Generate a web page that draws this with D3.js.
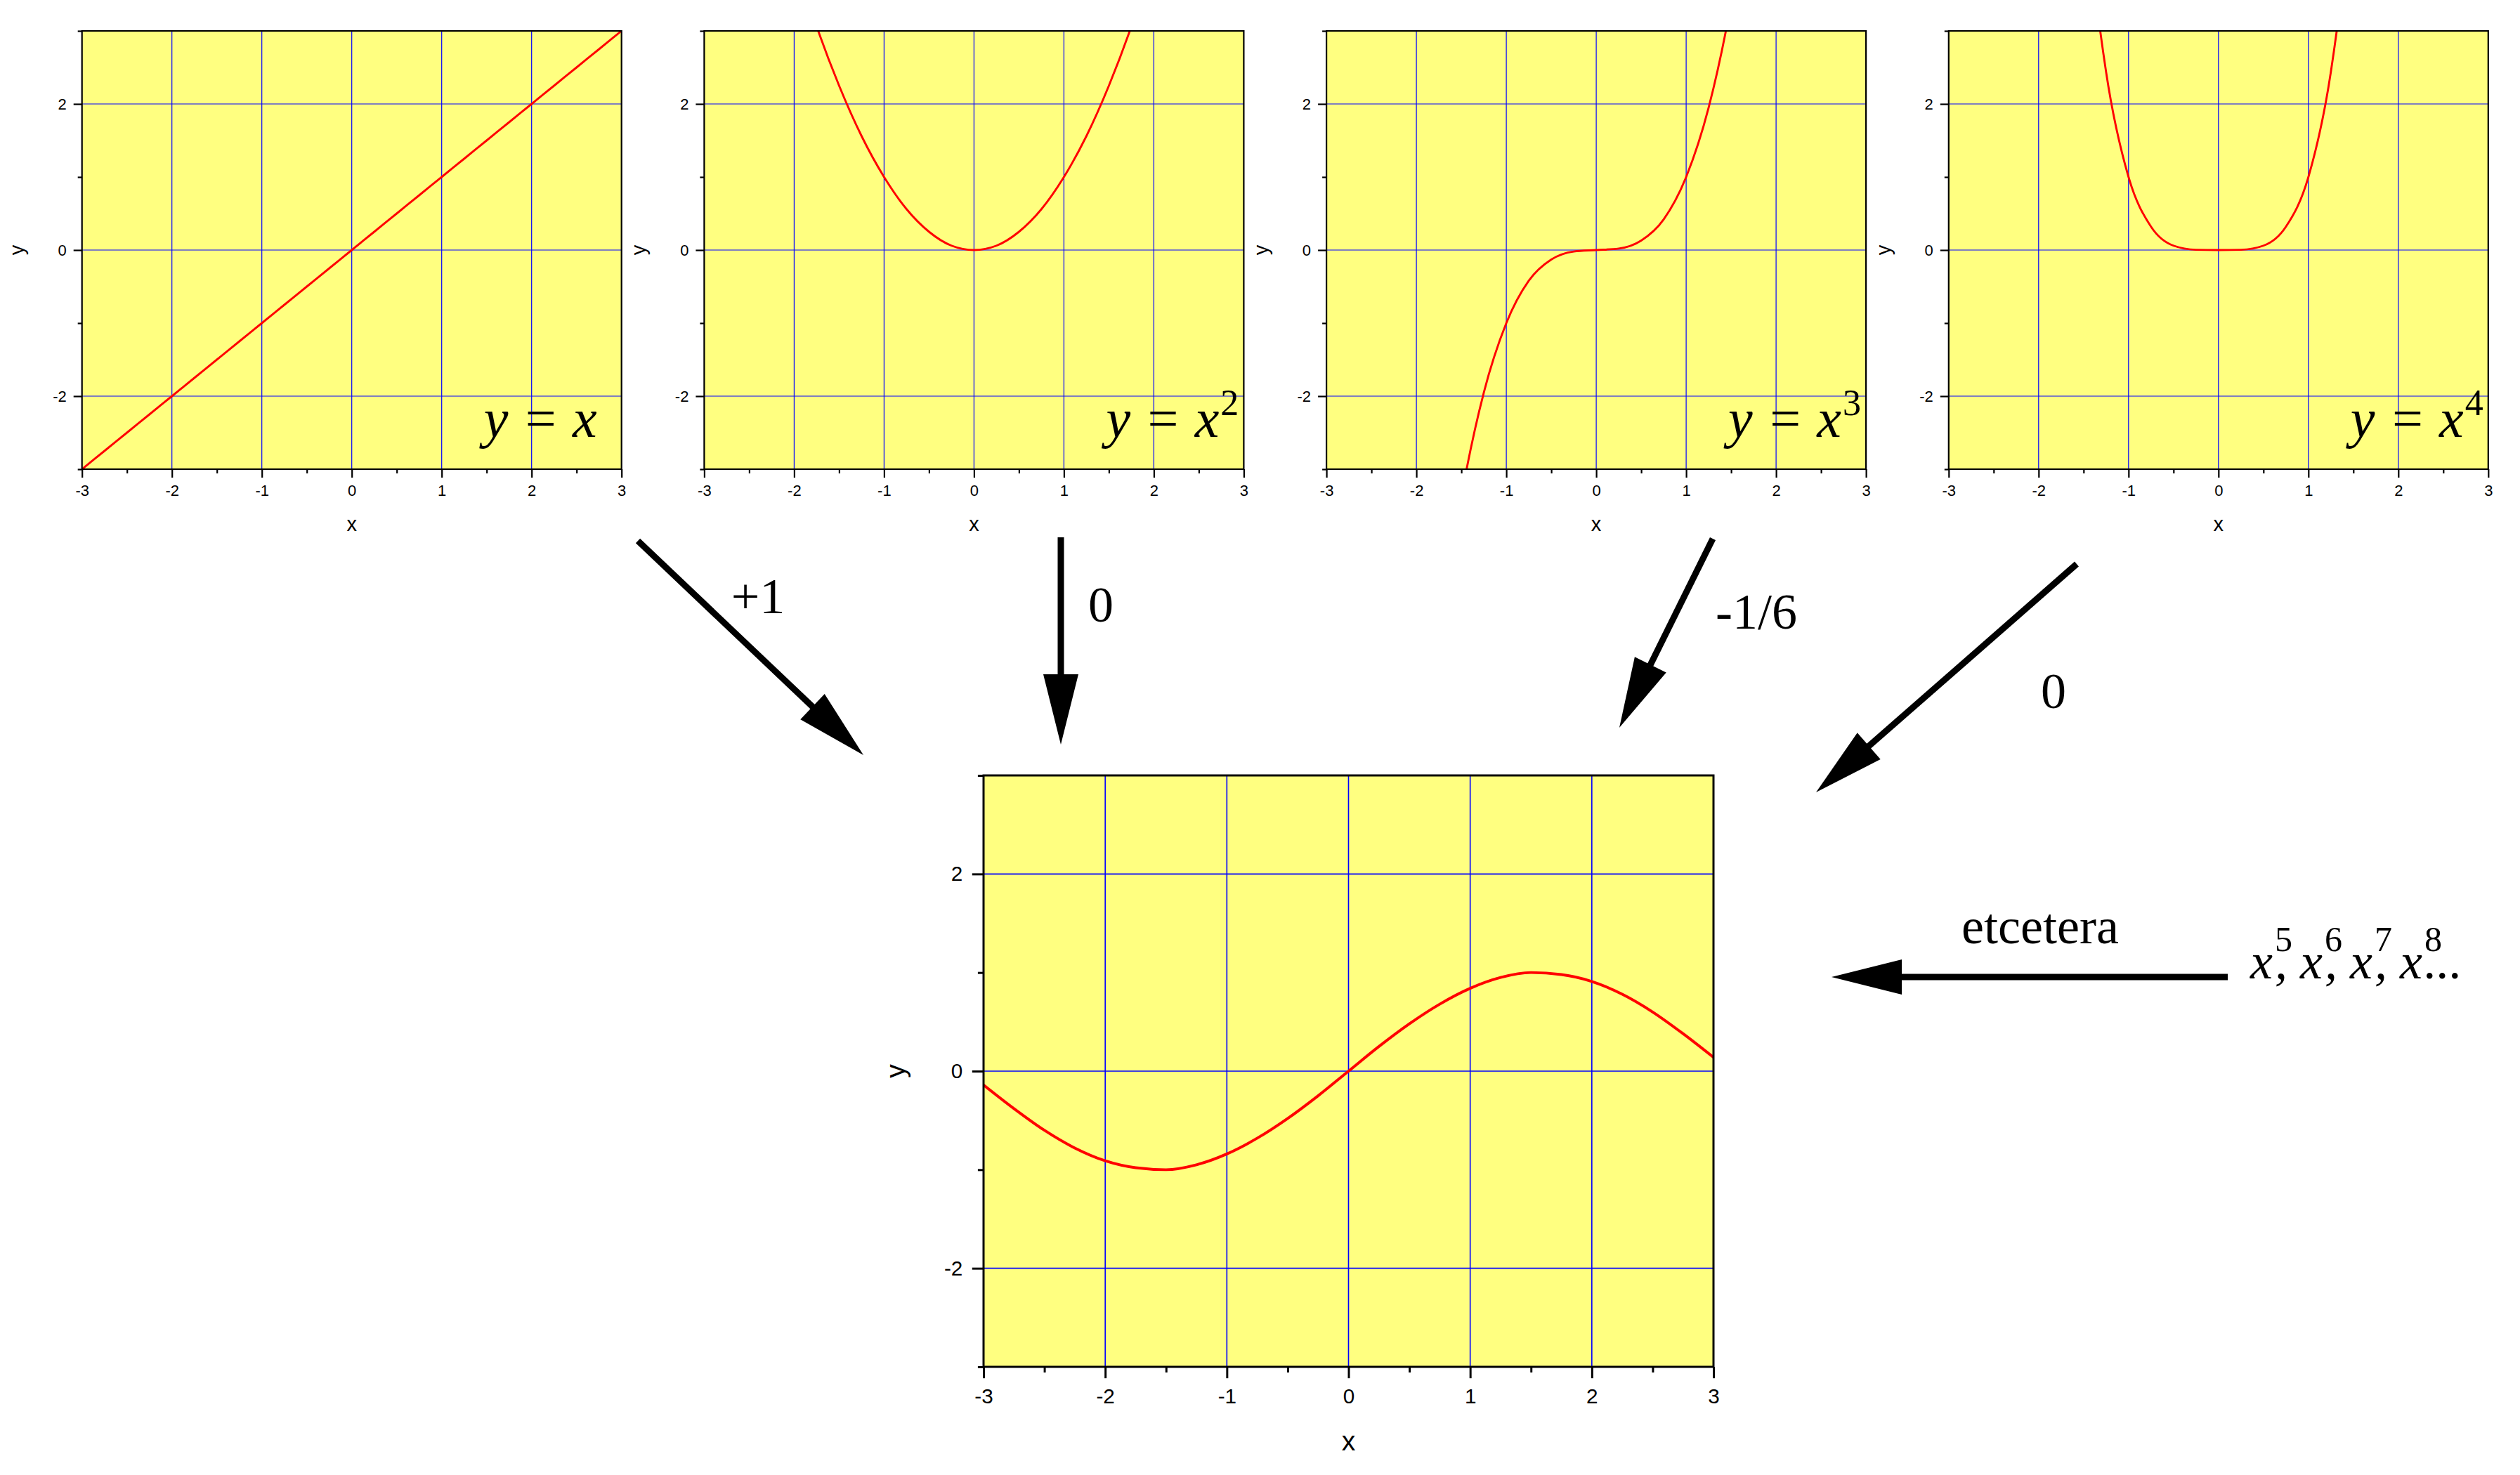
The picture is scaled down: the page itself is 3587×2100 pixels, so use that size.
<!DOCTYPE html>
<html>
<head>
<meta charset="utf-8">
<script src="https://cdn.jsdelivr.net/npm/d3@7"></script>
<style>
  body { margin: 0; background: #fff; }
  svg { display: block; }
</style>
</head>
<body>
<svg id="chart" width="3587" height="2100"></svg>
<script>
// x positions where every curve was sampled
const xs = [-3, -2.75, -2.5, -2.25, -2, -1.75, -1.5, -1.25, -1, -0.75, -0.5, -0.25, 0,
            0.25, 0.5, 0.75, 1, 1.25, 1.5, 1.75, 2, 2.25, 2.5, 2.75, 3];

// y = x, x^2, x^3, x^4 and the resulting sum (bottom chart)
const linearY = [-3, -2.75, -2.5, -2.25, -2, -1.75, -1.5, -1.25, -1, -0.75, -0.5, -0.25, 0,
                 0.25, 0.5, 0.75, 1, 1.25, 1.5, 1.75, 2, 2.25, 2.5, 2.75, 3];
const squareY = [9, 7.56, 6.25, 5.06, 4, 3.06, 2.25, 1.56, 1, 0.56, 0.25, 0.06, 0,
                 0.06, 0.25, 0.56, 1, 1.56, 2.25, 3.06, 4, 5.06, 6.25, 7.56, 9];
const cubeY = [-27, -20.8, -15.6, -11.4, -8, -5.36, -3.38, -1.95, -1, -0.42, -0.13, -0.02, 0,
               0.02, 0.13, 0.42, 1, 1.95, 3.38, 5.36, 8, 11.4, 15.6, 20.8, 27];
const quarticY = [81, 57.2, 39.1, 25.6, 16, 9.38, 5.06, 2.44, 1, 0.32, 0.06, 0.004, 0,
                  0.004, 0.06, 0.32, 1, 2.44, 5.06, 9.38, 16, 25.6, 39.1, 57.2, 81];
const sumY = [-0.14, -0.38, -0.6, -0.78, -0.91, -0.98, -1.0, -0.95, -0.84, -0.68, -0.48, -0.25, 0,
              0.25, 0.48, 0.68, 0.84, 0.95, 1.0, 0.98, 0.91, 0.78, 0.6, 0.38, 0.14];

const powers = ['', '2', '3', '4'];
const coefficients = ['+1', '0', '-1/6', '0'];
const laterPowers = ['5', '6', '7', '8'];

const xTicks = [-3, -2, -1, 0, 1, 2, 3];
const xMinorTicks = [-2.5, -1.5, -0.5, 0.5, 1.5, 2.5];
const xGrid = [-2, -1, 0, 1, 2];
const yTicks = [-2, 0, 2];
const yMinorTicks = [-3, -1, 1, 3];

const SANS = '"Liberation Sans", Arial, sans-serif';
const SERIF = '"Liberation Serif", "Times New Roman", serif';

const svg = d3.select('#chart');
svg.append('rect').attr('width', 3587).attr('height', 2100).attr('fill', '#fff');

function drawPanel(id, box, ys, k) {
  const x = d3.scaleLinear().domain([-3, 3]).range([box.left, box.left + box.width]);
  const y = d3.scaleLinear().domain([-3, 3]).range([box.top + box.height, box.top]);
  const g = svg.append('g');

  g.append('clipPath').attr('id', 'clip' + id)
    .append('rect')
    .attr('x', box.left).attr('y', box.top)
    .attr('width', box.width).attr('height', box.height);

  g.append('rect')
    .attr('x', box.left).attr('y', box.top)
    .attr('width', box.width).attr('height', box.height)
    .attr('fill', '#ffff80');

  g.selectAll('.vgrid').data(xGrid).enter().append('line')
    .attr('x1', d => x(d)).attr('x2', d => x(d))
    .attr('y1', box.top).attr('y2', box.top + box.height)
    .attr('stroke', '#0000ff').attr('stroke-width', 1.2 * k);
  g.selectAll('.hgrid').data(yTicks).enter().append('line')
    .attr('y1', d => y(d)).attr('y2', d => y(d))
    .attr('x1', box.left).attr('x2', box.left + box.width)
    .attr('stroke', '#0000ff').attr('stroke-width', 1.2 * k);

  const line = d3.line()
    .x((d, i) => x(xs[i]))
    .y(d => y(d))
    .curve(d3.curveMonotoneX);

  g.append('path')
    .datum(ys)
    .attr('clip-path', `url(#clip${id})`)
    .attr('d', line)
    .attr('fill', 'none')
    .attr('stroke', '#ff0000')
    .attr('stroke-width', 2.9 * k);

  g.append('rect')
    .attr('x', box.left).attr('y', box.top)
    .attr('width', box.width).attr('height', box.height)
    .attr('fill', 'none').attr('stroke', '#000').attr('stroke-width', 2.2 * k);

  const fmt = d => String(d);
  const bottom = box.top + box.height;
  const styleAxis = sel => {
    sel.attr('font-size', 22 * k).attr('font-family', SANS);
    sel.select('.domain').remove();
    sel.selectAll('line').attr('stroke', '#000').attr('stroke-width', 2.2 * k);
    sel.selectAll('text').attr('fill', '#000');
  };

  g.append('g').attr('transform', `translate(0,${bottom})`)
    .call(d3.axisBottom(x).tickValues(xTicks).tickFormat(fmt).tickSize(12 * k).tickPadding(10.7 * k))
    .call(styleAxis);
  g.append('g').attr('transform', `translate(0,${bottom})`)
    .call(d3.axisBottom(x).tickValues(xMinorTicks).tickFormat('').tickSize(6 * k))
    .call(styleAxis);
  g.append('g').attr('transform', `translate(${box.left},0)`)
    .call(d3.axisLeft(y).tickValues(yTicks).tickFormat(fmt).tickSize(12 * k).tickPadding(10 * k))
    .call(styleAxis);
  g.append('g').attr('transform', `translate(${box.left},0)`)
    .call(d3.axisLeft(y).tickValues(yMinorTicks).tickFormat('').tickSize(6 * k))
    .call(styleAxis);

  g.append('text')
    .attr('x', box.left + box.width / 2).attr('y', bottom + 78 * k)
    .attr('text-anchor', 'middle').attr('dominant-baseline', 'central')
    .attr('font-family', SANS).attr('font-size', 29 * k)
    .text('x');

  const cy = box.top + box.height / 2, cx = box.left - 93 * k;
  g.append('text')
    .attr('x', cx).attr('y', cy)
    .attr('transform', `rotate(-90,${cx},${cy})`)
    .attr('text-anchor', 'middle').attr('dominant-baseline', 'central')
    .attr('font-family', SANS).attr('font-size', 29 * k)
    .text('y');

  return g;
}

// four small charts across the top
const topBoxes = powers.map((p, i) => ({ left: 116.7 + i * 885.7, top: 44, width: 768, height: 624 }));
const topSeries = [linearY, squareY, cubeY, quarticY];

topBoxes.forEach((box, i) => {
  const g = drawPanel('top' + i, box, topSeries[i], 1);
  const t = g.append('text')
    .attr('x', box.left + 572).attr('y', box.top + 578)
    .attr('font-family', SERIF).attr('font-size', 78).attr('font-style', 'italic')
    .attr('fill', '#000');
  t.append('tspan').attr('xml:space', 'preserve').text('y = x');
  if (powers[i]) {
    t.append('tspan').attr('dy', -31).attr('dx', 2)
      .attr('font-size', 52).attr('font-style', 'normal')
      .text(powers[i]);
  }
});

// the sum, larger chart in the middle
drawPanel('sum', { left: 1400, top: 1104, width: 1039, height: 842 }, sumY, 1.35);

// arrows carrying each coefficient down to the sum
const arrows = [
  { from: [908, 770], to: [1229, 1075] },
  { from: [1510, 765], to: [1510, 1060] },
  { from: [2438, 767], to: [2305, 1036] },
  { from: [2956, 803], to: [2585, 1128] },
  { from: [3171, 1391], to: [2607, 1391] }
];
const labelPos = [
  { x: 1079, y: 873 },
  { x: 1567, y: 885 },
  { x: 2500, y: 895 },
  { x: 2923, y: 1008 }
];

function drawArrow(a) {
  const [x1, y1] = a.from, [x2, y2] = a.to;
  const len = Math.hypot(x2 - x1, y2 - y1);
  const ux = (x2 - x1) / len, uy = (y2 - y1) / len;
  const headLen = 100, half = 25;
  const bx = x2 - ux * headLen, by = y2 - uy * headLen;
  svg.append('line')
    .attr('x1', x1).attr('y1', y1)
    .attr('x2', bx + ux * 5).attr('y2', by + uy * 5)
    .attr('stroke', '#000').attr('stroke-width', 9);
  svg.append('path')
    .attr('d', `M${x2},${y2}L${bx - uy * half},${by + ux * half}L${bx + uy * half},${by - ux * half}Z`)
    .attr('fill', '#000');
}
arrows.forEach(drawArrow);

svg.selectAll('.coef').data(coefficients).enter().append('text')
  .attr('x', (d, i) => labelPos[i].x).attr('y', (d, i) => labelPos[i].y)
  .attr('text-anchor', 'middle')
  .attr('font-family', SERIF).attr('font-size', 72)
  .text(d => d);

svg.append('text')
  .attr('x', 2904).attr('y', 1343)
  .attr('text-anchor', 'middle')
  .attr('font-family', SERIF).attr('font-size', 72)
  .text('etcetera');

// x^5, x^6, x^7, x^8... : exponents sit over the commas, as in the original
const more = svg.append('text')
  .attr('x', 3203).attr('y', 1393)
  .attr('font-family', SERIF).attr('font-size', 72).attr('font-style', 'italic')
  .attr('xml:space', 'preserve');
laterPowers.forEach((p, i) => {
  more.append('tspan').text('x');
  more.append('tspan').attr('dy', -39).attr('dx', 3)
    .attr('font-size', 50).attr('font-style', 'normal').text(p);
  more.append('tspan').attr('dy', 39).attr('dx', -25)
    .text(i < laterPowers.length - 1 ? ', ' : '...');
});
</script>
</body>
</html>
